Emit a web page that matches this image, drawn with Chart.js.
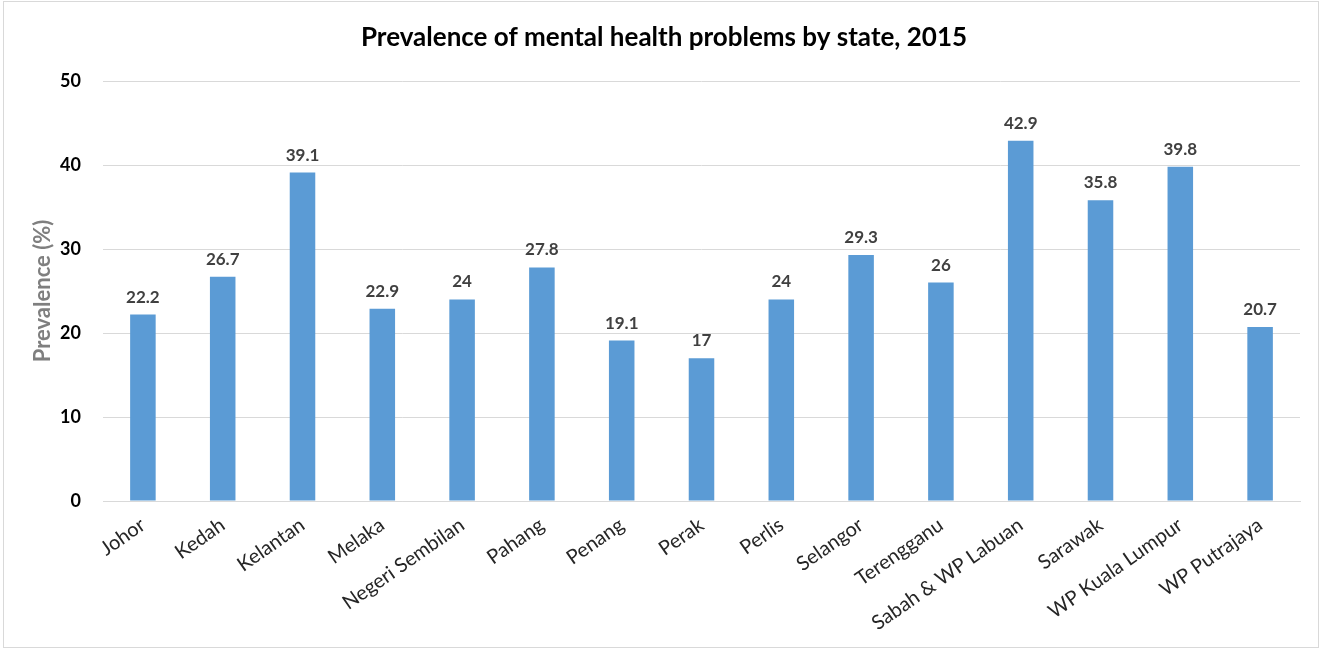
<!DOCTYPE html>
<html>
<head>
<meta charset="utf-8">
<title>Prevalence of mental health problems by state, 2015</title>
<script src="https://cdn.jsdelivr.net/npm/chart.js@4/dist/chart.umd.min.js"></script>
<style>
  html, body { margin: 0; padding: 0; background: #fff; }
  #wrap { position: relative; width: 1321px; height: 650px; }
  #frame {
    position: absolute; left: 3px; top: 1px; width: 1314px; height: 645px;
    border: 1px solid #d9d9d9; pointer-events: none;
  }
</style>
</head>
<body>
<div id="wrap">
  <canvas id="chart" width="1321" height="650"></canvas>
  <div id="frame"></div>
</div>
<script>
// States and prevalence (%)
const states = ['Johor', 'Kedah', 'Kelantan', 'Melaka', 'Negeri Sembilan', 'Pahang', 'Penang',
  'Perak', 'Perlis', 'Selangor', 'Terengganu', 'Sabah & WP Labuan', 'Sarawak',
  'WP Kuala Lumpur', 'WP Putrajaya'];
const prevalence = [22.2, 26.7, 39.1, 22.9, 24, 27.8, 19.1, 17, 24, 29.3, 26, 42.9, 35.8, 39.8, 20.7];
const yTicks = [0, 10, 20, 30, 40, 50];
const chartTitle = 'Prevalence of mental health problems by state, 2015';

const FONT = 'Lato, "Open Sans", sans-serif';

// heading, drawn a little left of the canvas centre
const heading = {
  id: 'heading',
  afterDraw(chart) {
    const ctx = chart.ctx;
    ctx.save();
    ctx.font = 'bold 26px ' + FONT;
    ctx.fillStyle = '#000';
    ctx.textAlign = 'center';
    ctx.textBaseline = 'middle';
    ctx.fillText(chartTitle, 664, 38);
    ctx.restore();
  }
};

// value labels on top of each bar
const barLabels = {
  id: 'barLabels',
  afterDatasetsDraw(chart) {
    const ctx = chart.ctx;
    const meta = chart.getDatasetMeta(0);
    ctx.save();
    ctx.font = 'bold 17px ' + FONT;
    ctx.fillStyle = '#404040';
    ctx.textAlign = 'center';
    ctx.textBaseline = 'alphabetic';
    meta.data.forEach((bar, i) => {
      ctx.fillText(String(prevalence[i]), bar.x, bar.y - 12);
    });
    ctx.restore();
  }
};

new Chart(document.getElementById('chart'), {
  type: 'bar',
  data: {
    labels: states,
    datasets: [{
      label: 'Prevalence (%)',
      data: prevalence,
      backgroundColor: '#5b9bd5',
      categoryPercentage: 1,
      barPercentage: 0.32
    }]
  },
  options: {
    responsive: false,
    animation: false,
    layout: { padding: { left: 0, right: 21, top: 81, bottom: 0 } },
    plugins: {
      legend: { display: false },
      tooltip: { enabled: false },
      title: { display: false }
    },
    scales: {
      x: {
        grid: { display: false, drawTicks: false },
        border: { color: '#d9d9d9', width: 1 },
        ticks: {
          color: '#262626',
          font: { family: FONT, size: 20 },
          minRotation: 35,
          maxRotation: 35,
          autoSkip: false,
          padding: 12
        },
        afterFit(scale) { scale.height = 149; }
      },
      y: {
        min: 0,
        max: 50,
        afterBuildTicks(scale) { scale.ticks = yTicks.map(v => ({ value: v })); },
        grid: { color: '#d9d9d9', drawTicks: false },
        border: { display: false },
        ticks: {
          color: '#000',
          font: { family: FONT, size: 18, weight: 'bold' },
          padding: 22
        },
        title: {
          display: true,
          text: 'Prevalence (%)',
          color: '#7f7f7f',
          font: { family: FONT, size: 22, weight: 'bold' },
          padding: { top: 30, bottom: 0 }
        },
        afterFit(scale) { scale.width = 103; }
      }
    }
  },
  plugins: [barLabels, heading]
});
</script>
</body>
</html>
